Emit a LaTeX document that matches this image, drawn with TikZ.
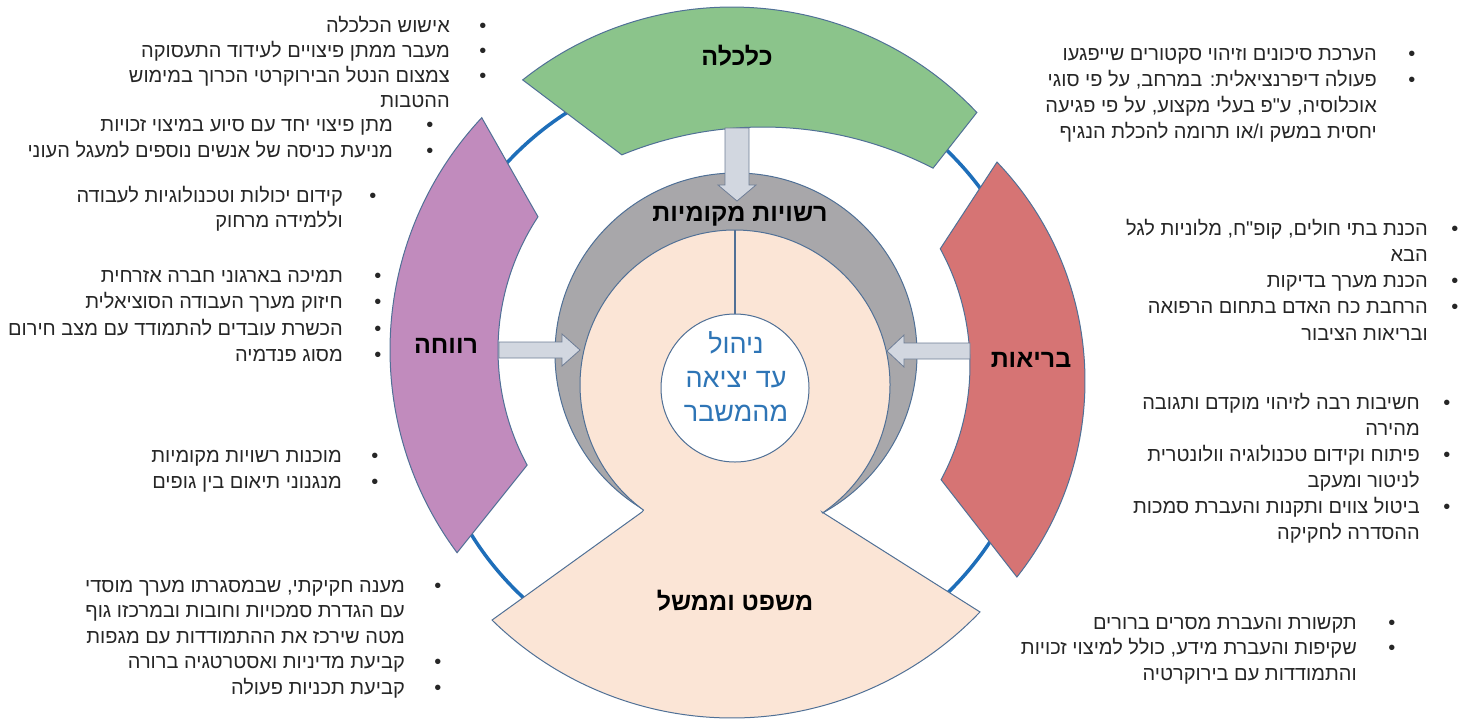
\documentclass[tikz,border=0pt]{standalone}
\usepackage{fontspec}
\usetikzlibrary{calc}
\newfontfamily\heb[Script=Hebrew]{Liberation Sans}
\TeXXeTstate=1
\newcommand\hl[1]{\beginR #1\endR}
\newcommand\blist[2]{\begin{tabular}[t]{@{}r@{\hspace{#1pt}}c@{}}#2\end{tabular}}
\definecolor{ringblue}{RGB}{30,110,185}
\definecolor{edge}{RGB}{80,112,150}
\definecolor{gfill}{RGB}{139,196,139}
\definecolor{pfill}{RGB}{193,139,189}
\definecolor{rfill}{RGB}{214,116,116}
\definecolor{grayfill}{RGB}{168,167,170}
\definecolor{beige}{RGB}{251,229,214}
\definecolor{arrowfill}{RGB}{210,215,224}
\definecolor{arrowedge}{RGB}{110,125,150}
\definecolor{txtgray}{RGB}{38,38,38}
\definecolor{centerblue}{RGB}{46,117,182}
\begin{document}
\begin{tikzpicture}[x=1pt,y=-1pt,
  sector/.style={fill=#1, draw=edge, line width=1pt},
  arr/.style={fill=arrowfill, draw=arrowedge, line width=0.8pt},
  lst/.style={font=\heb\fontsize{20}{#1}\selectfont, text=txtgray, inner sep=0pt, anchor=base east},
  ttl/.style={font=\heb\bfseries\fontsize{25}{30}\selectfont, text=black, inner sep=0pt, anchor=base}]
\useasboundingbox (0,0) rectangle (1468,721);
% outer ring
\draw[ringblue, line width=3.5pt] (733,372) circle[radius=308];
% centres of arcs
\coordinate (Og) at (732,344); \coordinate (Ig) at (763,499);
\coordinate (Op) at (730,350); \coordinate (Ip) at (740,350);
\coordinate (Or) at (768.7,381); \coordinate (Ir) at (728,365);
\coordinate (Cb) at (735,385); \coordinate (Ob) at (732,375);
\coordinate (nl) at (642,512); \coordinate (nr) at (822,512);
% green sector
\filldraw[sector=gfill] ($(Og)+(-128.4:337)$) arc[start angle=-128.4, end angle=-43.4, radius=337]
  -- ($(Ig)+(-62.8:372)$) arc[start angle=-62.8, end angle=-112.3, radius=372] -- cycle;
% purple sector
\filldraw[sector=pfill] ($(Op)+(223.1:340)$) arc[start angle=223.1, end angle=143.4, radius=340]
  -- ($(Ip)+(151.6:242)$) arc[start angle=151.6, end angle=213.4, radius=242] -- cycle;
% red sector
\filldraw[sector=rfill] ($(Or)+(-43.8:316.3)$) arc[start angle=-43.8, end angle=38.3, radius=316.3]
  -- ($(Ir)+(28.3:242)$) arc[start angle=28.3, end angle=-28.7, radius=242] -- cycle;
% gray disc
\filldraw[sector=grayfill] (736,354) circle[radius=181];
% beige shape
\filldraw[sector=beige] (nl) -- ($(Ob)+(134.4:343)$) arc[start angle=134.4, end angle=43.7, radius=343]
  -- (nr) -- ($(Cb)+(55.6:155)$) arc[start angle=55.6, end angle=-233.8, radius=155] -- cycle;
% centre circle
\node[circle, draw=edge, fill=white, line width=1pt, minimum size=148pt, inner sep=0pt] (core) at (735,388) {};
\coordinate (btop) at (735,230);
\draw[edge, line width=1.2pt] (core.north) -- (btop);
\node[font=\heb\fontsize{27}{34}\selectfont, text=centerblue, align=center, inner sep=0pt] (ctext) at (736,377)
  {\hl{ניהול}\\\hl{עד יציאה}\\\hl{מהמשבר}};
% block arrows
\filldraw[arr] (725,128) -- (749,128) -- (749,185) -- (756,185) -- (737,201) -- (718,185) -- (725,185) -- cycle;
\filldraw[arr] (499,342) -- (562,342) -- (562,334) -- (580,350) -- (562,366) -- (562,358) -- (499,358) -- cycle;
\filldraw[arr] (970,343) -- (904,343) -- (904,335) -- (887,351) -- (904,367) -- (904,359) -- (970,359) -- cycle;
% titles
\node[ttl] (tecon) at (737,65) {\hl{כלכלה}};
\node[ttl] (tlocal) at (740,221) {\hl{רשויות מקומיות}};
\node[ttl] (twelf) at (446,353) {\hl{רווחה}};
\node[ttl] (thealth) at (1031,367) {\hl{בריאות}};
\node[ttl] (tlaw) at (735,610) {\hl{משפט וממשל}};
% bullet lists
\node[lst=25] (b1) at (486.5,32) {\blist{29.5}{%
\hl{אישוש הכלכלה} & • \\
\hl{מעבר ממתן פיצויים לעידוד התעסוקה} & • \\
\hl{צמצום הנטל הבירוקרטי הכרוך במימוש} & • \\
\hl{ההטבות} & }};
\node[lst=26] (b1b) at (433.5,131) {\blist{33.5}{%
\hl{מתן פיצוי יחד עם סיוע במיצוי זכויות} & • \\
\hl{מניעת כניסה של אנשים נוספים למעגל העוני} & • }};
\node[lst=25] (b2a) at (376.5,202) {\blist{26.5}{%
\hl{קידום יכולות וטכנולוגיות לעבודה} & • \\
\hl{וללמידה מרחוק} & }};
\node[lst=26.5] (b2b) at (381.5,282) {\blist{31.5}{%
\hl{תמיכה בארגוני חברה אזרחית} & • \\
\hl{חיזוק מערך העבודה הסוציאלית} & • \\
\hl{הכשרת עובדים להתמודד עם מצב חירום} & • \\
\hl{מסוג פנדמיה} & • }};
\node[lst=26.7] (b3) at (378.5,462) {\blist{29.5}{%
\hl{מוכנות רשויות מקומיות} & • \\
\hl{מנגנוני תיאום בין גופים} & • }};
\node[lst=25.5] (b4) at (441.5,592) {\blist{29.5}{%
\hl{מענה חקיקתי, שבמסגרתו מערך מוסדי} & • \\
\hl{עם הגדרת סמכויות וחובות ובמרכזו גוף} & \\
\hl{מטה שירכז את ההתמודדות עם מגפות} & \\
\hl{קביעת מדיניות ואסטרטגיה ברורה} & • \\
\hl{קביעת תכניות פעולה} & • }};
\node[lst=26.3] (b5) at (1415.5,60) {\blist{31.5}{%
\hl{הערכת סיכונים וזיהוי סקטורים שייפגעו} & • \\
\hl{פעולה דיפרנציאלית: במרחב, על פי סוגי} & • \\
\hl{אוכלוסיה, ע"פ בעלי מקצוע, על פי פגיעה} & \\
\hl{יחסית במשק ו/או תרומה להכלת הנגיף} & }};
\node[lst=26.3] (b6) at (1458.5,235) {\blist{23.5}{%
\hl{הכנת בתי חולים, קופ"ח, מלוניות לגל} & • \\
\hl{הבא} & \\
\hl{הכנת מערך בדיקות} & • \\
\hl{הרחבת כח האדם בתחום הרפואה} & • \\
\hl{ובריאות הציבור} & }};
\node[lst=26] (b7) at (1450.5,409) {\blist{23.5}{%
\hl{חשיבות רבה לזיהוי מוקדם ותגובה} & • \\
\hl{מהירה} & \\
\hl{פיתוח וקידום טכנולוגיה וולונטרית} & • \\
\hl{לניטור ומעקב} & \\
\hl{ביטול צווים ותקנות והעברת סמכות} & • \\
\hl{ההסדרה לחקיקה} & }};
\node[lst=25.8] (b8) at (1395.5,629) {\blist{31.5}{%
\hl{תקשורת והעברת מסרים ברורים} & • \\
\hl{שקיפות והעברת מידע, כולל למיצוי זכויות} & • \\
\hl{והתמודדות עם בירוקרטיה} & }};
\end{tikzpicture}
\end{document}
